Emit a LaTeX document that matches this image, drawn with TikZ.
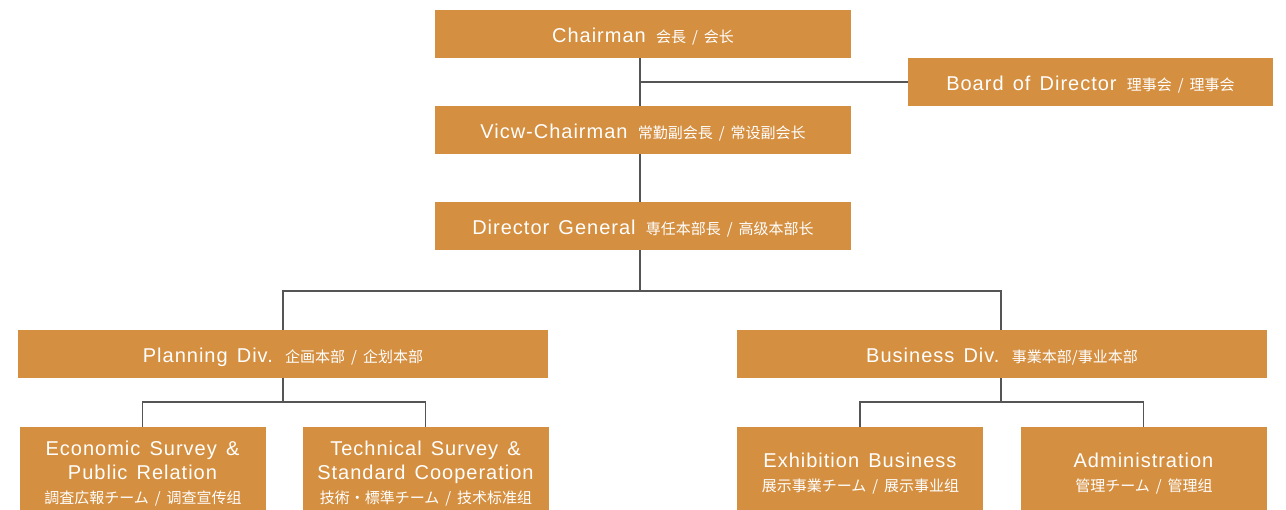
\documentclass[tikz,border=0pt]{standalone}
\usepackage{fontspec}
\setmainfont{Liberation Sans}[LetterSpace=5,WordSpace=1.4]
\newfontfamily\cjk{Noto Sans CJK SC}
\definecolor{boxor}{RGB}{213,143,64}
\definecolor{lnc}{RGB}{85,85,85}
\newcommand\cj[1]{\hspace{1pt}{\cjk\fontsize{15}{18}\selectfont #1}}
\newcommand\cjs{\hspace{6pt}/\hspace{6pt}}
\begin{document}
\begin{tikzpicture}[x=1pt,y=-1pt,
  box/.style={fill=boxor,draw=none,text=white,inner sep=0pt,align=center,
    font=\fontsize{20}{24}\selectfont},
  one/.style={box,text height=18pt,text depth=1.5pt,minimum height=48pt},
  wide/.style={one,minimum width=416pt},
  div/.style={one,minimum width=530pt},
  team/.style={box,minimum width=246pt,minimum height=93.5pt},
  conn/.style={draw=lnc,line width=1.1pt}]
\useasboundingbox (0,0) rectangle (1286,510);
\coordinate (spine) at (640,0);
\node[wide] (ch) at (643,34) {Chairman \cj{会長\cjs 会长}};
\node[one,minimum width=365pt] (bd) at (1090.5,82) {Board of Director \cj{理事会\cjs 理事会}};
\node[wide] (vc) at (643,130) {Vicw-Chairman \cj{常勤副会長\cjs 常设副会长}};
\node[wide] (dg) at (643,226) {Director General \cj{専任本部長\cjs 高级本部长}};
\node[div] (pl) at (283,354) {Planning Div. \cj{企画本部\cjs 企划本部}};
\node[div] (bu) at (1002,354) {Business Div. \cj{事業本部/事业本部}};
\node[team] (ec) at (142.5,473.75) {Economic Survey \&\\Public Relation\\\cj{調査広報チーム\cjs 调查宣传组}};
\node[team] (te) at (425.5,473.75) {Technical Survey \&\\Standard Cooperation\\\cj{技術・標準チーム\cjs 技术标准组}};
\node[team] (ex) at (860,473.75) {Exhibition Business\\\cj{展示事業チーム\cjs 展示事业组}};
\node[team] (ad) at (1143.5,473.75) {Administration\\\cj{管理チーム\cjs 管理组}};
\coordinate (j1) at (640,82);
\coordinate (j2) at (640,291);
\coordinate (j3) at (283,402);
\coordinate (j4) at (1001,402);
\draw[conn] (ch.south -| spine) -- (vc.north -| spine);
\draw[conn] (j1) -- (bd.west);
\draw[conn] (vc.south -| spine) -- (dg.north -| spine);
\draw[conn] (dg.south -| spine) -- (j2);
\draw[conn] (pl.north) -- (pl.north |- j2) -- (j2 -| j4) -- (j4 |- bu.north);
\draw[conn] (pl.south) -- (j3);
\draw[conn] (ec.north) -- (ec.north |- j3) -- (te.north |- j3) -- (te.north);
\draw[conn] (j4 |- bu.south) -- (j4);
\draw[conn] (ex.north) -- (ex.north |- j4) -- (ad.north |- j4) -- (ad.north);
\end{tikzpicture}
\end{document}
